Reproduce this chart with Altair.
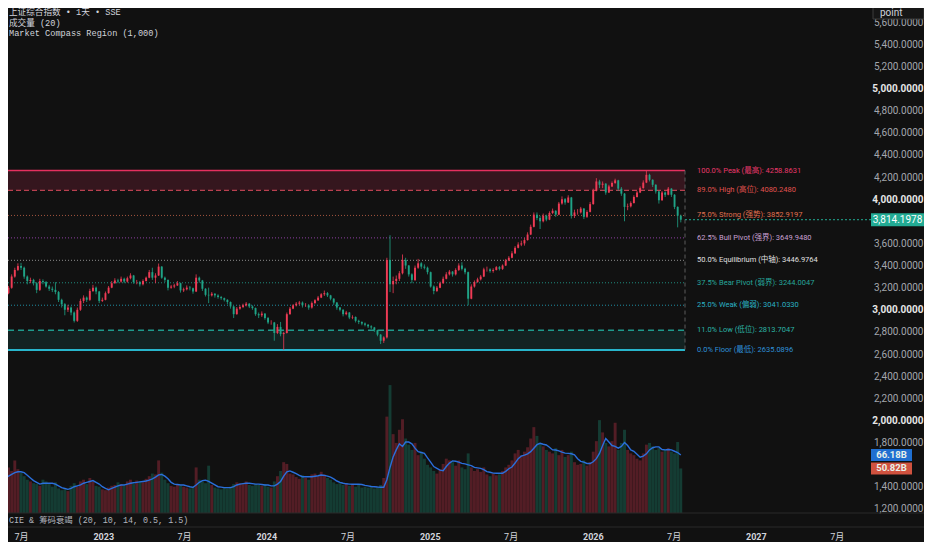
import altair as alt
import pandas as pd

# ---------------- data (weekly bars) ----------------
FIRST_OPEN = 3120
close = [
    3150, 3200, 3300, 3360, 3395, 3380, 3300, 3260, 3270, 3240,
    3180, 3260, 3250, 3210, 3190, 3180, 3160, 3090, 3050, 3000,
    3020, 2975, 2900, 3000, 3080, 3110, 3090, 3170, 3200, 3165,
    3080, 3090, 3150, 3200, 3240, 3265, 3255, 3280, 3255, 3285,
    3310, 3250, 3250, 3230, 3260, 3290, 3340, 3290, 3310, 3390,
    3290, 3270, 3200, 3210, 3220, 3240, 3175, 3185, 3200, 3195,
    3165, 3290, 3265, 3190, 3135, 3130, 3145, 3130, 3115, 3105,
    3090, 3070, 3030, 2960, 3010, 3025, 3040, 3055, 3030, 3015,
    2960, 2950, 2965, 2925, 2885, 2885, 2790, 2845, 2780, 2790,
    2960, 3010, 3040, 3055, 3065, 3040, 3040, 3020, 3060, 3085,
    3110, 3140, 3150, 3130, 3100, 3065, 3020, 3000, 2960, 2975,
    2930, 2935, 2900, 2890, 2875, 2865, 2850, 2840, 2815, 2775,
    2720, 2750, 3450, 3230, 3260, 3280, 3330, 3450, 3400, 3320,
    3270, 3380, 3420, 3390, 3380, 3340, 3210, 3170, 3200, 3240,
    3280, 3320, 3345, 3320, 3360, 3400, 3370, 3340, 3100, 3210,
    3250, 3275, 3300, 3365, 3365, 3350, 3360, 3385, 3370, 3400,
    3445, 3470, 3510, 3560, 3590, 3600, 3630, 3680, 3750, 3860,
    3830, 3800, 3850, 3815, 3875, 3895, 3860, 3960, 4000, 3970,
    4015, 3850, 3880, 3880, 3915, 3840, 3885, 3955, 4075, 4160,
    4130, 4140, 4060, 4115, 4145, 4170, 4095, 4050, 3930, 3935,
    3965, 4020, 4060, 4100, 4150, 4220, 4175, 4130, 4070, 3990,
    4060, 4040, 4095, 4040, 3930, 3850, 3814.1978,
]
high = [
    3170, 3215, 3320, 3380, 3420, 3424, 3390, 3310, 3290, 3280,
    3250, 3280, 3275, 3260, 3225, 3210, 3250, 3170, 3100, 3060,
    3045, 3030, 2985, 3020, 3100, 3130, 3120, 3190, 3225, 3210,
    3170, 3110, 3165, 3215, 3260, 3285, 3280, 3300, 3290, 3300,
    3330, 3315, 3270, 3260, 3275, 3300, 3360, 3380, 3330, 3418,
    3395, 3300, 3275, 3225, 3235, 3260, 3245, 3200, 3220, 3215,
    3200, 3320, 3300, 3270, 3195, 3200, 3160, 3150, 3140, 3125,
    3110, 3095, 3075, 3035, 3025, 3040, 3055, 3070, 3060, 3040,
    3020, 2975, 2985, 2970, 2935, 2905, 2890, 2870, 2890, 2800,
    2975, 3025, 3050, 3070, 3080, 3075, 3060, 3050, 3075, 3095,
    3125, 3150, 3174, 3160, 3135, 3105, 3070, 3025, 3005, 2990,
    2980, 2950, 2940, 2910, 2895, 2885, 2870, 2860, 2845, 2820,
    2780, 2760, 3470, 3674, 3300, 3310, 3350, 3500, 3470, 3405,
    3330, 3400, 3460, 3430, 3410, 3390, 3345, 3220, 3215, 3255,
    3300, 3340, 3360, 3350, 3375, 3420, 3430, 3380, 3345, 3230,
    3265, 3290, 3315, 3380, 3390, 3375, 3375, 3395, 3395, 3410,
    3460, 3485, 3530, 3575, 3610, 3625, 3650, 3700, 3770, 3880,
    3880, 3850, 3870, 3860, 3890, 3915, 3900, 3975, 4025, 4010,
    4035, 4020, 3905, 3910, 3930, 3920, 3900, 3975, 4095, 4190,
    4175, 4160, 4145, 4130, 4160, 4185, 4175, 4110, 4055, 3960,
    3980, 4035, 4075, 4115, 4170, 4258.86, 4230, 4180, 4135, 4075,
    4075, 4070, 4110, 4100, 4045, 3935, 3860,
]
low = [
    3110, 3140, 3190, 3290, 3350, 3360, 3280, 3230, 3240, 3220,
    3150, 3170, 3230, 3200, 3170, 3160, 3140, 3070, 3020, 2950,
    2980, 2950, 2885, 2890, 2990, 3060, 3070, 3080, 3160, 3140,
    3060, 3070, 3085, 3145, 3195, 3235, 3240, 3245, 3240, 3245,
    3275, 3235, 3230, 3210, 3220, 3255, 3285, 3270, 3240, 3305,
    3280, 3250, 3175, 3190, 3195, 3215, 3155, 3160, 3175, 3175,
    3145, 3160, 3245, 3170, 3120, 3060, 3120, 3110, 3100, 3090,
    3075, 3050, 3010, 2925, 2955, 3000, 3015, 3030, 3015, 3000,
    2945, 2925, 2935, 2910, 2870, 2865, 2720, 2780, 2760, 2635.09,
    2785, 2955, 3005, 3030, 3040, 3020, 3025, 3000, 3010, 3050,
    3080, 3105, 3125, 3115, 3085, 3045, 3000, 2985, 2940, 2950,
    2915, 2915, 2885, 2870, 2860, 2850, 2835, 2825, 2800, 2760,
    2690, 2700, 2740, 3160, 3150, 3230, 3260, 3320, 3370, 3300,
    3240, 3260, 3370, 3370, 3365, 3320, 3200, 3140, 3160, 3195,
    3235, 3275, 3310, 3300, 3310, 3350, 3355, 3320, 3040, 3095,
    3200, 3245, 3265, 3295, 3345, 3335, 3335, 3355, 3355, 3360,
    3395, 3440, 3465, 3505, 3555, 3575, 3580, 3625, 3675, 3745,
    3810, 3730, 3790, 3800, 3810, 3865, 3840, 3855, 3950, 3950,
    3965, 3825, 3830, 3860, 3870, 3820, 3830, 3880, 3950, 4070,
    4100, 4100, 4040, 4055, 4110, 4140, 4075, 4030, 3800, 3900,
    3925, 3960, 4015, 4055, 4095, 4145, 4160, 4110, 4050, 3960,
    3985, 4020, 4035, 4020, 3910, 3745, 3790,
]
volume = [  # billions, average per day
    44, 52, 48, 60, 50, 46, 42, 38, 36, 34,
    33, 31, 38, 36, 33, 30, 35, 28, 26, 27,
    25, 31, 34, 30, 36, 38, 33, 40, 36, 31,
    30, 27, 26, 29, 31, 32, 35, 33, 31, 36,
    38, 33, 37, 36, 35, 39, 42, 45, 44, 60,
    46, 38, 34, 31, 30, 33, 31, 30, 29, 28,
    30, 52, 38, 36, 34, 54, 32, 29, 28, 27,
    29, 28, 30, 33, 35, 34, 33, 36, 32, 31,
    33, 32, 31, 33, 30, 29, 36, 42, 48, 58,
    56, 45, 44, 41, 39, 43, 40, 38, 44, 45,
    42, 47, 44, 40, 38, 35, 33, 34, 32, 34,
    31, 33, 30, 33, 29, 30, 29, 31, 28, 29,
    32, 40, 110, 146, 90, 80, 95, 107, 85, 78,
    72, 80, 66, 70, 62, 55, 52, 48, 45, 50,
    56, 62, 60, 58, 54, 60, 52, 50, 68, 52,
    48, 50, 47, 52, 44, 42, 45, 43, 44, 48,
    52, 55, 60, 68, 72, 66, 70, 75, 85, 98,
    88, 80, 76, 72, 70, 68, 74, 66, 72, 64,
    66, 70, 58, 55, 56, 60, 54, 58, 70, 82,
    106, 92, 80, 76, 82, 103, 72, 80, 95, 72,
    68, 66, 62, 60, 68, 78, 80, 76, 72, 74,
    70, 72, 74, 70, 68, 81, 50.82,
]
volume_ma = [  # 成交量 (20) moving average, billions
    40, 42, 44, 46, 47, 47, 46, 43, 40, 37,
    35, 33, 34, 34, 34, 34, 33, 31, 29, 28,
    27, 28, 30, 31, 32, 34, 35, 36, 37, 35,
    33, 30, 28, 26.5, 28, 29.5, 31, 32, 32, 33,
    34, 34.5, 35, 35.5, 36, 36.5, 37.5, 39, 41, 43.5,
    44, 42, 39, 35, 33, 32.5, 32, 32, 31, 30,
    29.3, 32, 35, 37, 37.5, 36, 34, 32, 30, 29.5,
    29, 29, 29, 30, 32, 33, 33.5, 34, 34, 33.5,
    33, 33, 32.5, 32, 32, 31, 31, 33, 36, 42,
    47, 48, 46.5, 45, 43, 41.4, 41.4, 41.4, 41.4, 42,
    42.5, 43.4, 43, 42, 41, 39, 36.5, 35, 34, 33.3,
    33, 32.8, 32.8, 32.8, 32.5, 31.5, 31, 30.2, 30, 29.6,
    29.4, 29.3, 38, 52, 64, 72, 79, 76, 81, 81,
    79, 74, 70, 69, 68, 63, 58, 53, 51, 49,
    48.3, 53, 57, 59.5, 59, 58, 56.7, 56, 55, 54,
    52, 51.5, 51, 49.5, 47.2, 46.5, 45.5, 45.3, 45.3, 45.3,
    47.5, 50.5, 52.5, 57, 62, 65, 66, 67.5, 70, 74,
    78, 79.6, 78.5, 77.6, 75, 72, 71.9, 71, 69.5, 68.3,
    68, 67.6, 66.5, 62, 59, 58, 56.5, 56.5, 58.5, 62,
    68, 77, 85, 81, 77, 76, 74, 76, 80.5, 77,
    72, 70.5, 67, 63.6, 65, 67.5, 72, 74.5, 75.5, 75.5,
    72.5, 72, 72.5, 72, 70.5, 69, 66.18,
]
dates = pd.date_range("2022-05-27", periods=len(close), freq="7D").strftime("%Y-%m-%d").tolist()
opens = [FIRST_OPEN] + close[:-1]

level_values = [4258.8631, 4080.2480, 3852.9197, 3649.9480, 3446.9764,
                3244.0047, 3041.0330, 2813.7047, 2635.0896]
level_labels = [
    "100.0% Peak (最高): 4258.8631",
    "89.0% High (高位): 4080.2480",
    "75.0% Strong (强势): 3852.9197",
    "62.5% Bull Pivot (强界): 3649.9480",
    "50.0% Equilibrium (中轴): 3446.9764",
    "37.5% Bear Pivot (弱界): 3244.0047",
    "25.0% Weak (偏弱): 3041.0330",
    "11.0% Low (低位): 2813.7047",
    "0.0% Floor (最低): 2635.0896",
]
last_price = 3814.1978
last_ma = 66.18
last_volume = 50.82
# price-scale labels (3,800 and 1,600 sit under the value tags in the reference)
price_ticks = [v for v in range(1200, 5601, 200) if v not in (3800, 1600)]
tick_months = [(2022, 7), (2023, 1), (2023, 7), (2024, 1), (2024, 7), (2025, 1),
               (2025, 7), (2026, 1), (2026, 7), (2027, 1), (2027, 7)]
header_lines = ["上证综合指数 • 1天 • SSE", "成交量 (20)", "Market Compass Region (1,000)"]
pane_title = "CIE & 筹码衰竭 (20, 10, 14, 0.5, 1.5)"

bars = pd.DataFrame({"date": dates, "open": opens, "close": close, "high": high,
                     "low": low, "volume": volume, "ma": volume_ma})

# ---------------- styles / layout ----------------
BG = "#111111"
UP = "#ef3b55"
DOWN = "#1fa386"
W, H = 852, 519
REGION_X1 = 677
LABEL_X = 689
MONO = "Liberation Mono, Noto Sans CJK SC, monospace"
SANS = "Roboto, Noto Sans CJK SC, sans-serif"
LEVEL_STYLE = [
    dict(line="#e5305f", text="#e8386a", dash=None, w=1.6),
    dict(line="#b8404f", text="#e0514f", dash=[5, 3], w=1.2),
    dict(line="#a4553f", text="#e0704f", dash=[1, 2], w=1),
    dict(line="#8e3fa3", text="#c9a0d2", dash=[1, 2], w=1),
    dict(line="#8c8c8c", text="#e0e0e0", dash=[1, 2], w=1),
    dict(line="#1f8a7c", text="#26a69a", dash=[1, 2], w=1),
    dict(line="#1f8ea3", text="#2ab0c4", dash=[1, 2], w=1),
    dict(line="#1f9a8c", text="#2bb3a6", dash=[6, 4], w=1.5),
    dict(line="#28b6cc", text="#2e90d8", dash=None, w=2),
]

XS = alt.Scale(type="utc", domain=[alt.DateTime(year=2022, month=6, date=13, utc=True),
                                   alt.DateTime(year=2027, month=8, date=11, utc=True)])
YP = alt.Scale(domain=[1035.8, 5728.4], zero=False, nice=False)
YV = alt.Scale(domain=[-16, 576.5], zero=False, nice=False)

XAXIS = alt.Axis(
    values=[alt.DateTime(year=y, month=m, date=1, utc=True) for y, m in tick_months],
    labelExpr="utcmonth(datum.value) == 0 ? utcFormat(datum.value, '%Y') : '7月'",
    labelFontWeight={"condition": {"test": "utcmonth(datum.value) == 0", "value": "bold"}, "value": "normal"},
    labelColor="#d1d4dc", labelFontSize=9, labelFont=SANS, ticks=False, tickSize=0,
    domain=False, grid=False, labelPadding=5, labelFlush=False, labelOverlap=False, title=None)
YAXIS = alt.Axis(
    orient="right", values=price_ticks, format=",.4f", labelAlign="right", labelPadding=63,
    labelFontSize=10, labelFont="Roboto",
    labelColor={"condition": {"test": "datum.value % 1000 === 0", "value": "#e6e6e6"}, "value": "#a3a6ad"},
    labelFontWeight={"condition": {"test": "datum.value % 1000 === 0", "value": "bold"}, "value": "normal"},
    ticks=False, tickSize=0, domain=False, grid=False, title=None, labelOverlap=False, labelFlush=False)


def xenc():
    return alt.X("date:T", scale=XS, axis=XAXIS)


candle_color = alt.condition("datum.close >= datum.open", alt.value(UP), alt.value(DOWN))
one = pd.DataFrame({"k": [0]})

# ---------------- volume group ----------------
vol_bars = alt.Chart(bars).mark_bar(size=2.9, opacity=0.3, clip=True).encode(
    x=xenc(), y=alt.Y("volume:Q", scale=YV, axis=None), y2=alt.datum(0), color=candle_color)
vol_ma = alt.Chart(bars).mark_line(color="#2a6fdb", strokeWidth=1.4, clip=True).encode(
    x=xenc(), y=alt.Y("ma:Q", scale=YV, axis=None))
vol_box_layers = []
for val, col in [(last_ma, "#1f6fd1"), (last_volume, "#d0523f")]:
    dfv = pd.DataFrame({"v": [val]})
    vol_box_layers.append(alt.Chart(dfv).mark_point(
        shape="M-20.5,-6H20.5V6H-20.5Z", size=4, filled=True, opacity=1, color=col).encode(
        x=alt.value(883.5), y=alt.Y("v:Q", scale=YV, axis=None)))
    vol_box_layers.append(alt.Chart(dfv).transform_calculate(
        lab="format(datum.v, '.2f') + 'B'").mark_text(
        fontSize=9.5, font="Roboto", fontWeight="bold", color="#e8f1ea", align="center", baseline="middle").encode(
        x=alt.value(883.5), y=alt.Y("v:Q", scale=YV, axis=None), text="lab:N"))
vol_group = alt.layer(vol_bars, vol_ma, *vol_box_layers)

# ---------------- price group ----------------
price_layers = []
for hi_i, lo_i, col, op in [(0, 1, "#e5305f", 0.17), (7, 8, "#26a69a", 0.13)]:
    dfz = pd.DataFrame({"hi": [level_values[hi_i]], "lo": [level_values[lo_i]]})
    price_layers.append(alt.Chart(dfz).mark_rect(color=col, opacity=op).encode(
        x=alt.value(0), x2=alt.value(REGION_X1),
        y=alt.Y("hi:Q", scale=YP, axis=YAXIS), y2="lo:Q"))

for i, st in enumerate(LEVEL_STYLE):
    dfl = pd.DataFrame({"v": [level_values[i]], "label": [level_labels[i]]})
    kw = dict(color=st["line"], strokeWidth=st["w"])
    if st["dash"]:
        kw["strokeDash"] = st["dash"]
    price_layers.append(alt.Chart(dfl).mark_rule(**kw).encode(
        x=alt.value(0), x2=alt.value(REGION_X1), y=alt.Y("v:Q", scale=YP, axis=YAXIS)))
    price_layers.append(alt.Chart(dfl).mark_text(
        align="left", baseline="middle", fontSize=7.5, font=SANS, color=st["text"]).encode(
        x=alt.value(LABEL_X), y=alt.Y("v:Q", scale=YP, axis=YAXIS), text="label:N"))

dfr = pd.DataFrame({"top": [level_values[0]], "bottom": [level_values[-1]]})
price_layers.append(alt.Chart(dfr).mark_rule(color="#5c5c5c", strokeDash=[4, 3], strokeWidth=1).encode(
    x=alt.value(REGION_X1), y=alt.Y("top:Q", scale=YP, axis=YAXIS), y2="bottom:Q"))

price_layers.append(alt.Chart(bars).mark_rule(strokeWidth=0.8, clip=True).encode(
    x=xenc(), y=alt.Y("low:Q", scale=YP, axis=YAXIS), y2="high:Q", color=candle_color))
price_layers.append(alt.Chart(bars).mark_bar(size=1.9, clip=True).encode(
    x=xenc(), y=alt.Y("open:Q", scale=YP, axis=YAXIS), y2="close:Q", color=candle_color))

dfp = pd.DataFrame({"p": [last_price]})
price_layers.append(alt.Chart(dfp).mark_rule(color="#22ab94", strokeDash=[2, 2], strokeWidth=1).encode(
    x=alt.value(REGION_X1), x2=alt.value(863), y=alt.Y("p:Q", scale=YP, axis=YAXIS)))
price_layers.append(alt.Chart(dfp).mark_point(
    shape="M-26.5,-6.5H26.5V6.5H-26.5Z", size=4, filled=True, opacity=1, color="#22ab94").encode(
    x=alt.value(889.5), y=alt.Y("p:Q", scale=YP, axis=YAXIS)))
price_layers.append(alt.Chart(dfp).mark_text(
    fontSize=10, font="Roboto", color="#ffffff", align="center", baseline="middle").encode(
    x=alt.value(889.5), y=alt.Y("p:Q", scale=YP, axis=YAXIS), text=alt.Text("p:Q", format=",.4f")))

# decorations: header, pane separators, pane title, "point" box
for j, line in enumerate(header_lines):
    price_layers.append(alt.Chart(pd.DataFrame({"t": [line]})).mark_text(
        align="left", baseline="top", font=MONO, fontSize=8.6, color="#d1d4dc").encode(
        x=alt.value(1), y=alt.value([0, 11, 21][j]), text="t:N"))
for yy in [505, 519]:
    price_layers.append(alt.Chart(one).mark_rule(color="#2b2b2b", strokeWidth=1).encode(
        x=alt.value(0), x2=alt.value(916), y=alt.value(yy)))
price_layers.append(alt.Chart(pd.DataFrame({"t": [pane_title]})).mark_text(
    align="left", baseline="middle", font=MONO, fontSize=8.4, color="#b2b5be").encode(
    x=alt.value(1), y=alt.value(512), text="t:N"))
price_layers.append(alt.Chart(one).mark_point(
    shape="M-25.5,-6H25.5V6H-25.5Z", size=4, filled=True, opacity=1, color="#161616",
    stroke="#3c3c3c", strokeWidth=1).encode(x=alt.value(890.5), y=alt.value(5)))
price_layers.append(alt.Chart(pd.DataFrame({"t": ["point"]})).mark_text(
    align="left", baseline="middle", font="Roboto", fontSize=10, color="#d1d4dc").encode(
    x=alt.value(872), y=alt.value(5), text="t:N"))

price_group = alt.layer(*price_layers)

chart = alt.layer(vol_group, price_group).resolve_scale(y="independent").properties(
    width=W, height=H,
    autosize=alt.AutoSizeParams(type="none"),
    padding={"left": 0, "top": 0, "right": 64, "bottom": 15},
    background=BG,
).configure_view(stroke="transparent")

chart.save("out.html", embed_options={"renderer": "svg", "actions": False})
